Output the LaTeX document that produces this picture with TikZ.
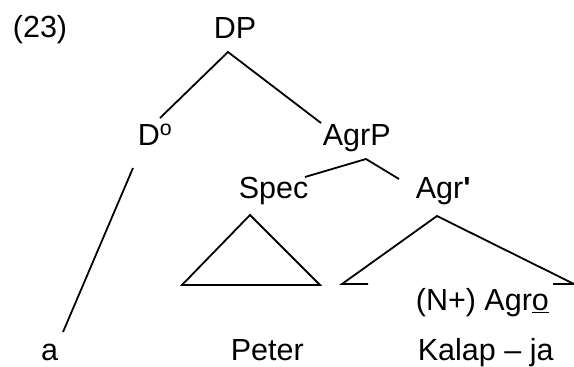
\documentclass[tikz,border=0pt]{standalone}
\usepackage{fontspec}
\setmainfont{Liberation Sans}
\begin{document}
\begin{tikzpicture}[x=1pt, y=-1pt, line width=1.8pt,
    every node/.style={inner sep=0pt, anchor=base west, font=\fontsize{30.5}{36}\selectfont}]
    \useasboundingbox (0,0) rectangle (574,367);
    % labels
    \node (num) at (12,37) {(23)};
    \node[anchor=base] (DP) at (235,38) {DP};
    \node (D) at (137,145) {D\textsuperscript{o}};
    \node (AgrP) at (322,145) {AgrP};
    \node (Spec) at (238,198) {Spec};
    \node (Agrbar) at (415,198) {Agr{\bfseries\textquotesingle}};
    \node (Agro) at (415,310) {(N+) Agr\underline{o}};
    \node[anchor=base] (a) at (49.5,360) {a};
    \node (Peter) at (230,360) {Peter};
    \node (Kalap) at (417,360) {Kalap -- ja};
    % branch points
    \coordinate (DPtop) at (228,52);
    \coordinate (Dtop) at (160,118);
    \coordinate (AgrPtop) at (321,123);
    \coordinate (Dlow) at (133,168);
    \coordinate (alow) at (63,332);
    \coordinate (AgrPapex) at (366,159);
    \coordinate (Specend) at (305,177);
    \coordinate (Agrend) at (399,179);
    \coordinate (SpecA) at (250,215);
    \coordinate (SpecL) at (182,285);
    \coordinate (SpecR) at (320,285);
    \coordinate (AgrA) at (437,216);
    \coordinate (AgrL) at (342,284);
    \coordinate (AgrLi) at (368,284);
    \coordinate (AgrRi) at (553,284);
    \coordinate (AgrR) at (574,284);
    % branches
    \draw (Dtop) -- (DPtop) -- (AgrPtop);
    \draw (Dlow) -- (alow);
    \draw (Specend) -- (AgrPapex) -- (Agrend);
    \draw[line join=miter] (SpecA) -- (SpecL) -- (SpecR) -- cycle;
    \draw (AgrLi) -- (AgrL) -- (AgrA) -- (AgrR) -- (AgrRi);
\end{tikzpicture}
\end{document}
